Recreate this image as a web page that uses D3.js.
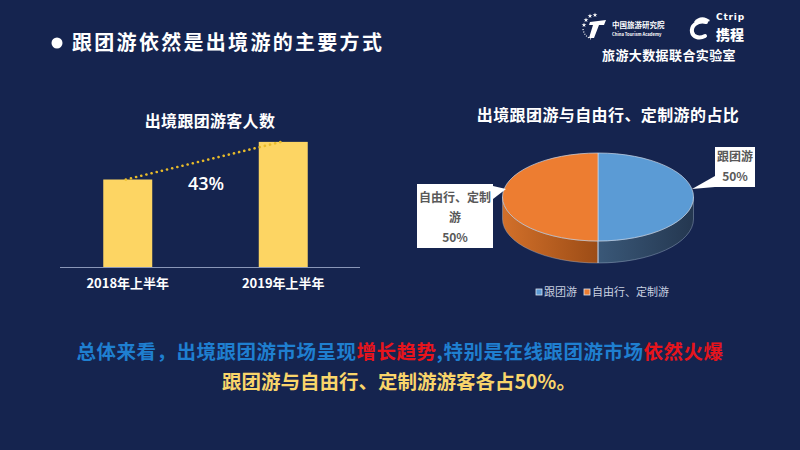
<!DOCTYPE html>
<html>
<head>
<meta charset="utf-8">
<script src="https://cdn.jsdelivr.net/npm/d3@7"></script>
<style>
html,body{margin:0;padding:0;background:#15244f;}
svg{display:block;font-family:"Noto Sans CJK SC","Noto Sans",sans-serif;}
</style>
</head>
<body>
<svg id="chart" width="800" height="450"></svg>
<script>
// ---- data ----
const barCategories = ["2018年上半年", "2019年上半年"];
const barValues = [100, 143];
const growthLabel = "43%";
const pieCategories = ["跟团游", "自由行、定制游"];
const pieValues = [50, 50];
const pieLabelLines = [["跟团游", "50%"], ["自由行、定制", "游", "50%"]];

const svg = d3.select("#chart");
const bg = "#15244f";
svg.append("rect").attr("width", 800).attr("height", 450).attr("fill", bg);

const defs = svg.append("defs");

// ---- header ----
svg.append("circle").attr("cx", 57).attr("cy", 43).attr("r", 5.5).attr("fill", "#ffffff");
svg.append("text").attr("x", 72).attr("y", 50)
  .attr("fill", "#ffffff").attr("font-size", 20).attr("font-weight", 700)
  .attr("letter-spacing", 2.3)
  .text("跟团游依然是出境游的主要方式");

// logos (approximation)
const lg = svg.append("g");
const star = d3.symbol().type(d3.symbolStar).size(7);
[[586,20],[590,16],[595,15],[584,25]].forEach(p => {
  lg.append("path").attr("d", star()).attr("transform", `translate(${p[0]},${p[1]})`).attr("fill", "#fff");
});
lg.append("path").attr("d", "M583,29 Q584,36 591,39").attr("fill", "none").attr("stroke", "#fff").attr("stroke-width", 1.2).attr("stroke-dasharray", "1 1.5");
lg.append("path").attr("d", "M590,22 L606,20 L604,25 L599,25 L594,38 L589,38 L593,25 L589,25 Z").attr("fill", "#fff");
lg.append("text").attr("x", 612).attr("y", 28).attr("fill", "#fff").attr("font-size", 7.5).attr("font-weight", 700).text("中国旅游研究院");
lg.append("text").attr("x", 612).attr("y", 35.5).attr("fill", "#fff").attr("font-size", 4.2).attr("font-weight", 700).text("China Tourism Academy");
// Ctrip logo
lg.append("path").attr("d", "M706,22 C697,20 691,26 692,32 C693,37 699,39 705,36")
  .attr("fill", "none").attr("stroke", "#fff").attr("stroke-width", 4).attr("stroke-linecap", "round");
lg.append("path").attr("d", "M694,22 C698,16 706,16 710,21 L704,23 Z").attr("fill", "#fff");
lg.append("text").attr("x", 716).attr("y", 20).attr("fill", "#fff").attr("font-size", 9).attr("font-weight", 700)
  .attr("font-family", "DejaVu Sans").attr("letter-spacing", 0.8).text("Ctrip");
lg.append("text").attr("x", 716).attr("y", 40).attr("fill", "#fff").attr("font-size", 14).attr("font-weight", 900).text("携程");
svg.append("text").attr("x", 669).attr("y", 60).attr("text-anchor", "middle")
  .attr("fill", "#ffffff").attr("font-size", 13).attr("font-weight", 700).attr("letter-spacing", 0.4)
  .text("旅游大数据联合实验室");

// ---- bar chart ----
const x = d3.scaleBand().domain(barCategories).range([50, 361]).paddingInner(0.685).paddingOuter(0.3425);
const y = d3.scaleLinear().domain([0, 160]).range([267, 127]);

svg.append("text").attr("x", 210).attr("y", 127).attr("text-anchor", "middle")
  .attr("fill", "#ffffff").attr("font-size", 16).attr("font-weight", 700).attr("letter-spacing", 0.3)
  .text("出境跟团游客人数");

svg.append("g").selectAll("rect").data(barValues).join("rect")
  .attr("x", (d, i) => x(barCategories[i]))
  .attr("y", d => y(d))
  .attr("width", x.bandwidth())
  .attr("height", d => y(0) - y(d))
  .attr("fill", "#fdd563");

const xAxis = svg.append("g").attr("transform", `translate(0,${y(0)})`)
  .call(d3.axisBottom(x).tickSize(0).tickPadding(12));
xAxis.select(".domain").attr("d", "M60,0.5H360").attr("stroke", "#8a97b8").attr("stroke-width", 1.2);
xAxis.selectAll("text").attr("fill", "#ffffff").attr("font-size", 13).attr("font-weight", 700)
  .attr("font-family", "'Noto Sans CJK SC',sans-serif");

// dotted growth line
svg.append("line")
  .attr("x1", x(barCategories[0]) + x.bandwidth() / 2 - 2).attr("y1", y(barValues[0]))
  .attr("x2", x(barCategories[1]) + x.bandwidth() / 2 - 2).attr("y2", y(barValues[1]))
  .attr("stroke", "#e8bb2a").attr("stroke-width", 2.6).attr("stroke-linecap", "round")
  .attr("stroke-dasharray", "0.1 5.2");

svg.append("text").attr("x", 206).attr("y", 190).attr("text-anchor", "middle")
  .attr("fill", "#ffffff").attr("font-size", 18).attr("font-weight", 600)
  .attr("font-family", "'Open Sans','Noto Sans',sans-serif")
  .text(growthLabel);

// ---- 3D pie ----
const cx = 598, cy = 197, rx = 95.5, ry = 44, depth = 22;
const pieColors = ["#5b9bd5", "#ed7d31"];
const sideStops = [
  [["0%", "#3a5878"], ["100%", "#243750"]],
  [["0%", "#d2702a"], ["100%", "#9c4c16"]]
];
sideStops.forEach((stops, i) => {
  const g = defs.append("linearGradient").attr("id", "side" + i)
    .attr("x1", "0%").attr("x2", "100%").attr("y1", "0%").attr("y2", "0%");
  stops.forEach(s => g.append("stop").attr("offset", s[0]).attr("stop-color", s[1]));
});

svg.append("text").attr("x", 608).attr("y", 121).attr("text-anchor", "middle")
  .attr("fill", "#ffffff").attr("font-size", 16).attr("font-weight", 700).attr("letter-spacing", 0.4)
  .text("出境跟团游与自由行、定制游的占比");

const pie = d3.pie().sort(null).value(d => d);
const arcs = pie(pieValues);
const px = a => cx + rx * Math.sin(a);
const py = (a, off = 0) => cy - ry * Math.cos(a) + off;

const pieG = svg.append("g");
// sides (visible front half between PI/2 and 3PI/2)
arcs.forEach((a, i) => {
  const s = Math.max(a.startAngle, Math.PI / 2), e = Math.min(a.endAngle, 3 * Math.PI / 2);
  if (e <= s) return;
  const sweepLarge = (e - s) > Math.PI ? 1 : 0;
  const d = `M${px(s)},${py(s)} A${rx},${ry} 0 ${sweepLarge} 1 ${px(e)},${py(e)}` +
    ` L${px(e)},${py(e, depth)} A${rx},${ry} 0 ${sweepLarge} 0 ${px(s)},${py(s, depth)} Z`;
  pieG.append("path").attr("d", d).attr("fill", `url(#side${i})`)
    .attr("stroke", "#9fb0c8").attr("stroke-opacity", 0.55).attr("stroke-width", 0.8);
});
pieG.append("line").attr("x1", px(Math.PI)).attr("y1", py(Math.PI)).attr("x2", px(Math.PI)).attr("y2", py(Math.PI, depth))
  .attr("stroke", "#b8c4d6").attr("stroke-width", 1);
// tops
arcs.forEach((a, i) => {
  const s = a.startAngle, e = a.endAngle;
  const large = (e - s) > Math.PI ? 1 : 0;
  const d = `M${cx},${cy} L${px(s)},${py(s)} A${rx},${ry} 0 ${large} 1 ${px(e)},${py(e)} Z`;
  pieG.append("path").attr("d", d).attr("fill", pieColors[i])
    .attr("stroke", "#c9d4e3").attr("stroke-width", 0.9).attr("stroke-opacity", 0.8);
});

// callout labels
const callouts = [
  { box: [715, 147, 40, 40], tip: [692, 189], base: [[715, 176], [715, 187]], cxT: 735, ys: [161, 181] },
  { box: [417, 184, 76, 64], tip: [506, 189], base: [[493, 186], [493, 199]], cxT: 455, ys: [202, 222, 242] }
];
callouts.forEach((c, i) => {
  const g = svg.append("g");
  g.append("path").attr("d", `M${c.base[0][0]},${c.base[0][1]} L${c.tip[0]},${c.tip[1]} L${c.base[1][0]},${c.base[1][1]} Z`)
    .attr("fill", "#ffffff");
  g.append("rect").attr("x", c.box[0]).attr("y", c.box[1]).attr("width", c.box[2]).attr("height", c.box[3]).attr("fill", "#ffffff");
  pieLabelLines[i].forEach((t, j) => {
    g.append("text").attr("x", c.cxT).attr("y", c.ys[j]).attr("text-anchor", "middle")
      .attr("fill", "#595959").attr("font-size", 12).attr("font-weight", 700).text(t);
  });
});

// legend
const legendX = [536, 584];
pieCategories.forEach((c, i) => {
  svg.append("rect").attr("x", legendX[i]).attr("y", 289).attr("width", 6).attr("height", 6)
    .attr("fill", pieColors[i]).attr("stroke", "#dfe6f0").attr("stroke-width", 0.8);
  svg.append("text").attr("x", legendX[i] + 8).attr("y", 296).attr("fill", "#c9d1e0")
    .attr("font-size", 11).text(c);
});

// ---- bottom text ----
const line1 = [
  ["总体来看，出境跟团游市场呈现", "#1f7fd0"],
  ["增长趋势", "#e8141c"],
  [",特别是在线跟团游市场", "#1f7fd0"],
  ["依然火爆", "#e8141c"]
];
const t1 = svg.append("text").attr("x", 400).attr("y", 359).attr("text-anchor", "middle")
  .attr("font-size", 19.5).attr("font-weight", 700).attr("letter-spacing", 0.5);
line1.forEach(p => t1.append("tspan").attr("fill", p[1]).text(p[0]));
svg.append("text").attr("x", 399).attr("y", 389).attr("text-anchor", "middle")
  .attr("font-size", 19.5).attr("font-weight", 700).attr("fill", "#f9d56a")
  .text("跟团游与自由行、定制游游客各占50%。");
</script>
</body>
</html>
